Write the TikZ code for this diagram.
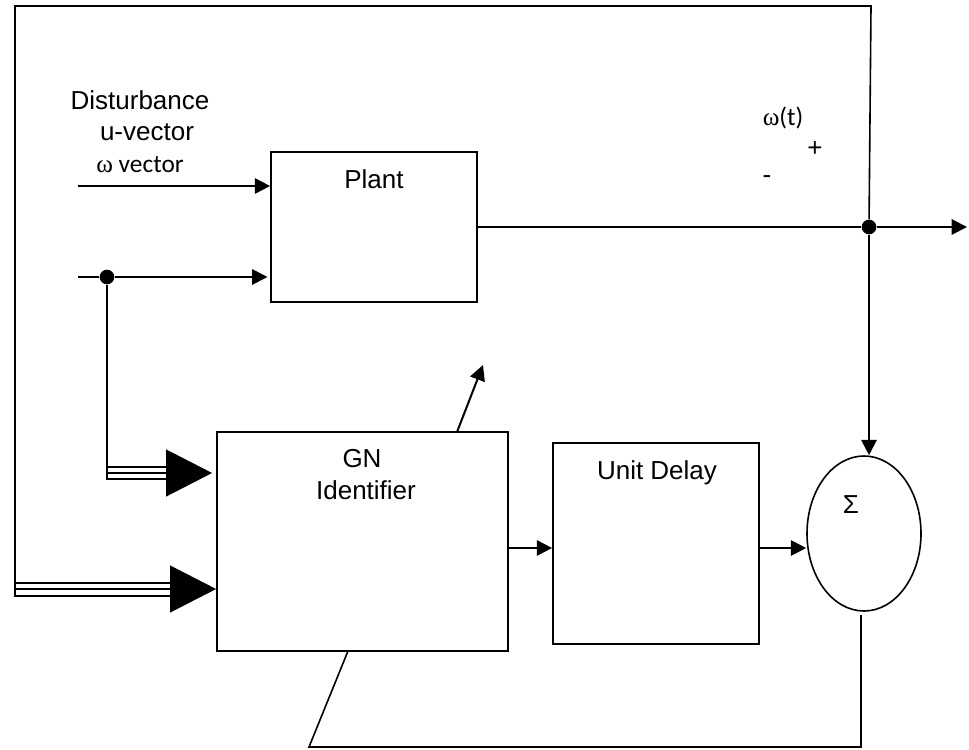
\documentclass[tikz,border=0pt]{standalone}
\usepackage{fontspec}
\setmainfont{Liberation Sans}
\newfontfamily\calfont{Carlito}
\newfontfamily\wfont{Liberation Serif}
\usetikzlibrary{arrows.meta,shapes.geometric}
\begin{document}
\begin{tikzpicture}[x=0.75pt,y=-0.75pt,
  box/.style={draw,line width=1.3pt,rectangle,inner sep=0pt},
  wire/.style={line width=1.5pt},
  frame/.style={line width=1.2pt},
  arr/.style={line width=1.5pt,-{Triangle[length=11.5pt,width=11.5pt]}},
  bigarr/.style={line width=1.5pt,-{Triangle[length=34.5pt,width=35pt]}},
  dotn/.style={circle,fill,inner sep=0pt,minimum size=11pt},
  lbl/.style={inner sep=0pt,font=\fontsize{19.5}{23}\selectfont},
  clbl/.style={inner sep=0pt,font=\fontsize{19}{23}\selectfont\calfont}]
\useasboundingbox (0,0) rectangle (969,749);
% blocks
\node[box,minimum width=154.5pt,minimum height=112.5pt] (plant) at (374,227) {};
\node[box,minimum width=218.25pt,minimum height=164.25pt] (gn) at (362.5,541.5) {};
\node[box,minimum width=154.5pt,minimum height=150.75pt] (delay) at (656,543.5) {};
\node[draw,ellipse,line width=1.2pt,inner sep=0pt,minimum width=85.5pt,minimum height=116.25pt] (sum) at (864,533.5) {};
% labels
\node[lbl,anchor=base] (tDist) at (140,109) {Disturbance};
\node[lbl,anchor=base] (tU) at (147,140) {u-vector};
\node[clbl,anchor=base] (tW) at (140,172) {{\wfont ω} vector};
\node[lbl,anchor=base] (tPlant) at (374,188) {Plant};
\node[lbl,anchor=base] (tGN) at (362,467) {GN};
\node[lbl,anchor=base] (tId) at (366,499) {Identifier};
\node[lbl,anchor=base] (tUD) at (657,479) {Unit Delay};
\node[lbl,anchor=base] (tS) at (851,513) {Σ};
\node[clbl,anchor=base] (tWt) at (783,125) {{\wfont ω}(t)};
\node[lbl] (tPlus) at (815,149) {+};
\node[lbl] (tMinus) at (767,180) {-};
% junctions and free ends
\node[dotn] (d1) at (107,277) {};
\node[dotn] (d2) at (869,227) {};
\coordinate (in1) at (78,186);
\coordinate (in2) at (78,277);
\coordinate (out) at (967,227);
\coordinate (c1) at (871,6);
\coordinate (c2) at (15,6);
\coordinate (j1) at (107,473);
\coordinate (j2) at (15,589);
\coordinate (g1) at (508,548);
\coordinate (a1) at (457,432);
\coordinate (a2) at (483,365);
\coordinate (f0) at (861,615);
\coordinate (f1) at (861,747);
\coordinate (f2) at (309,747);
\coordinate (f3) at (348,651);
% plant inputs
\draw[arr] (in1) -- (in1 -| plant.west);
\draw[wire] (in2) -- (d1);
\draw[arr,shorten >=2pt] (d1) -- (d1 -| plant.west);
% plant output
\draw[wire] (plant.east |- d2) -- (d2);
\draw[arr] (d2) -- (out);
\draw[arr] (d2) -- (d2 |- sum.north);
% outer frame
\draw[frame] (d2) -- (c1) -- (c2) -- (15,596);
% upper triple arrow
\draw[wire] (d1) -- (107,479.5);
\draw[wire] (106.3,467) -- (168,467);
\draw[wire] (106.3,479) -- (168,479);
\draw[bigarr,shorten >=3pt] (j1) -- (j1 -| gn.west);
% lower triple arrow
\draw[wire] (14.3,583) -- (171,583);
\draw[wire] (14.3,596) -- (171,596);
\draw[bigarr] (j2) -- (j2 -| gn.west);
% chain
\draw[arr] (g1) -- (g1 -| delay.west);
\draw[arr] (delay.east |- g1) -- (g1 -| sum.west);
% diagonal arrow
\draw[arr] (a1) -- (a2);
% feedback
\draw[frame] (f0) -- (f1) -- (f2) -- (f3);
\end{tikzpicture}
\end{document}
